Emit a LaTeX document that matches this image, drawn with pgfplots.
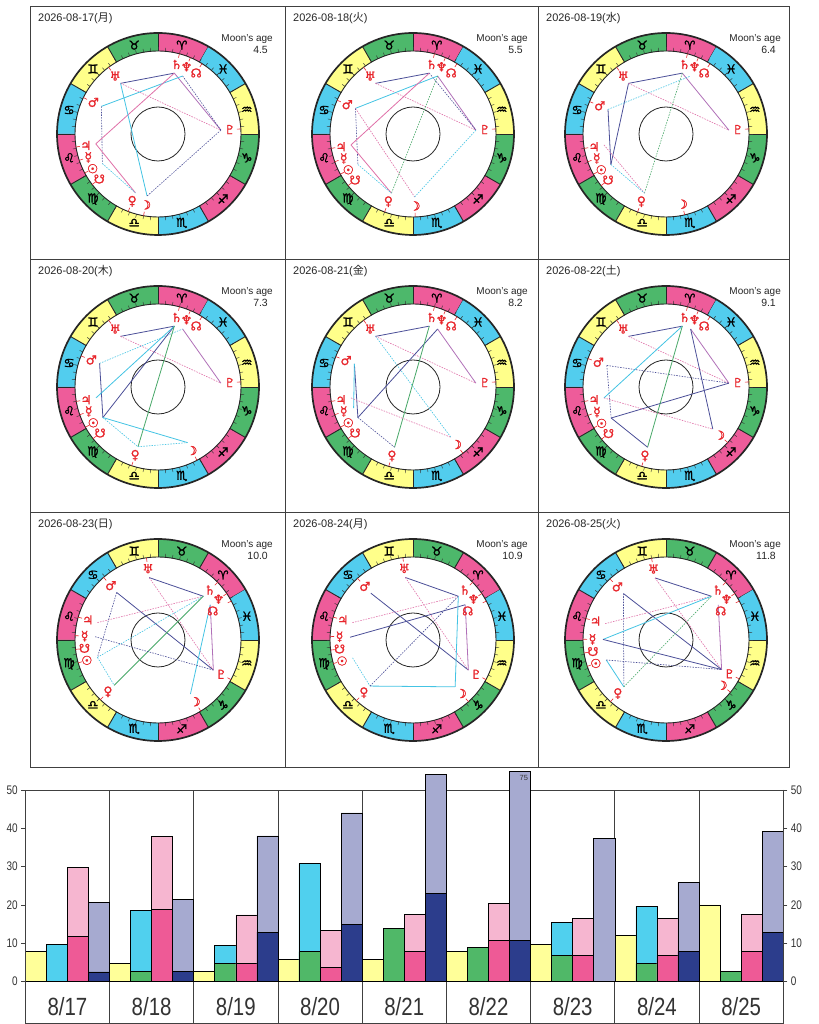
\documentclass[border=0pt]{standalone}
\usepackage{fontspec}
\usepackage{graphicx}
\usepackage{pgfplots}
\pgfplotsset{compat=1.18}
\usepackage{pgfplotstable}
\usepgfplotslibrary{polar}
\setmainfont{Liberation Sans}
\newfontfamily\sym[FakeBold=1.2]{DejaVu Sans}
\newfontfamily\symb[FakeBold=1.8]{DejaVu Sans}
\newfontfamily\jp{Noto Sans CJK JP}

\definecolor{cfire}{HTML}{EE5C9A}
\definecolor{cearth}{HTML}{4DB86B}
\definecolor{cair}{HTML}{FFFF8A}
\definecolor{cwater}{HTML}{52CDEE}
\definecolor{cred}{HTML}{E8262C}
\definecolor{cS}{HTML}{4B4F98}
\definecolor{cP}{HTML}{E070A8}
\definecolor{cM}{HTML}{B070B8}
\definecolor{cC}{HTML}{44C4E4}
\definecolor{cG}{HTML}{48A868}
\definecolor{byel}{HTML}{FFFF99}
\definecolor{bcyan}{HTML}{50D0EE}
\definecolor{bgreen}{HTML}{50B868}
\definecolor{bhpink}{HTML}{EE5A96}
\definecolor{blpink}{HTML}{F6B6D0}
\definecolor{bnavy}{HTML}{2C3D8C}
\definecolor{blav}{HTML}{A6AAD0}

\newcommand\pfont{\sym\fontsize{12.5}{12.5}\selectfont}
\newcommand\sfont{\symb\fontsize{12.5}{12.5}\selectfont}
\newcommand\tickfont{\fontsize{12.5}{12.5}\selectfont}
\newcommand\catfont{\fontsize{25}{25}\selectfont}
\newcommand\cl[1]{\scalebox{0.82}[1]{#1}}
\newcommand\tl[1]{\scalebox{0.8}[1]{#1}}

\pgfplotsset{
 aS/.style={color=cS, line width=0.8bp},
 aSd/.style={color=cS, line width=0.6bp, dash pattern=on 1.5bp off 1.2bp},
 aP/.style={color=cP, line width=0.8bp},
 aPd/.style={color=cP, line width=0.6bp, dash pattern=on 1.5bp off 1.2bp},
 aM/.style={color=cM, line width=0.8bp},
 aC/.style={color=cC, line width=0.8bp},
 aCd/.style={color=cC, line width=0.6bp, dash pattern=on 1.5bp off 1.2bp},
 aG/.style={color=cG, line width=0.8bp},
 aGd/.style={color=cG, line width=0.6bp, dash pattern=on 1.5bp off 1.2bp},
 pcon/.style={color=cred, line width=0.6bp},
 planetlab/.style={draw=none, mark=none, point meta=explicit symbolic,
   nodes near coords={\pgfplotspointmeta},
   every node near coord/.append style={anchor=center, inner sep=0pt, font=\pfont, text=cred}},
 signlab/.style={draw=none, mark=none, point meta=explicit symbolic,
   nodes near coords={\pgfplotspointmeta},
   every node near coord/.append style={anchor=center, inner sep=0pt, font=\sfont, text=black}},
 wheelax/.style={scale only axis, width=210bp, height=210bp, xmin=0, xmax=360,
   ymin=0, ymax=105, hide axis, xtick=\empty, ytick=\empty, clip=false},
}

\newcommand\asp[3]{\edef\asptmp{\noexpand\addplot[#1] coordinates {(#2,63) (#3,63)};}\asptmp}
\newcommand\con[1]{\edef\contmp{\noexpand\addplot[pcon] coordinates {(#1,79) (#1,83)};}\contmp}

\newcommand\ring[3]{%
 \begin{scope}[shift={(#1,#2)}]
  \foreach \k in {0,...,11}{
    \pgfmathsetmacro\a{#3+30*\k}
    \pgfmathtruncatemacro\e{mod(\k,4)}
    \ifcase\e \def\col{cfire}\or\def\col{cearth}\or\def\col{cair}\or\def\col{cwater}\fi
    \fill[\col] (\a:83bp) arc[start angle=\a, delta angle=30, radius=83bp]
       -- (\a+30:101bp) arc[start angle=\a+30, delta angle=-30, radius=101bp] -- cycle;
    \draw[line width=0.9bp, black!85] (\a:83bp) -- (\a:101bp);
  }
  \foreach \t in {0,5,...,355}{\draw[line width=0.45bp, black!80] (\t+#3:83bp) -- (\t+#3:86.5bp);}
  \draw[line width=1.7bp, black!85] (0,0) circle[radius=101bp];
  \draw[line width=0.9bp, black!85] (0,0) circle[radius=83bp];
  \draw[line width=0.8bp, black!85] (0,0) circle[radius=27bp];
 \end{scope}}

\newcommand\wheel[7]{%
 \ring{#1}{#2}{#3}
 \node[anchor=base west, inner sep=0pt, font=\fontsize{11}{11}\selectfont, text=black!85] at (#1-120,#2+112) {#4({\jp #5})};
 \node[anchor=base east, inner sep=0pt, font=\fontsize{10}{10}\selectfont, text=black!85] at (#1+115,#2+92) {Moon's age};
 \node[anchor=base east, inner sep=0pt, font=\fontsize{10.5}{10.5}\selectfont, text=black!85] at (#1+110,#2+80) {#6};
 \begin{polaraxis}[wheelax, at={(#1,#2)}, anchor=center]
  \ifnum#3=60
   \addplot[signlab] coordinates {(75,92)[♈] (105,92)[♉] (135,92)[♊] (165,92)[♋] (195,92)[♌] (225,92)[♍] (255,92)[♎] (285,92)[♏] (315,92)[♐] (345,92)[♑] (15,92)[♒] (45,92)[♓]};
  \else
   \addplot[signlab] coordinates {(45,92)[♈] (75,92)[♉] (105,92)[♊] (135,92)[♋] (165,92)[♌] (195,92)[♍] (225,92)[♎] (255,92)[♏] (285,92)[♐] (315,92)[♑] (345,92)[♒] (15,92)[♓]};
  \fi
  #7
  \con\Sa \con\Ne \con\No \con\Ur \con\Ma \con\Ju \con\Me \con\Su \con\Sn \con\Ve \con\Mo \con\Pl
  \edef\labtmp{\noexpand\addplot[planetlab] coordinates {(\Sa,72)[♄] (\Ne,73)[♆] (\No,\rNo)[☊] (\Ur,72)[♅] (\Ma,72)[♂] (\Ju,73)[♃] (\Me,73.5)[☿] (\Su,74)[☉] (\Sn,74)[☋] (\Ve,72)[♀] (\Mo,72)[☽] (\Pl,72)[♇]};}\labtmp
 \end{polaraxis}}

\pgfplotstableread{
x yel cyan green lpink hpink lav navy
0 7.8 9.8 0 29.8 11.8 20.6 2.5
1 4.7 18.5 2.6 37.8 18.8 21.4 2.6
2 2.6 9.4 4.7 17.4 4.7 38.0 12.9
3 5.7 30.8 7.8 13.4 3.7 44.0 15.0
4 5.7 0 13.9 17.5 7.8 54.0 23.0
5 7.8 0 8.9 20.3 10.7 75 10.7
6 9.8 15.5 6.8 16.5 6.8 37.4 0
7 12.1 19.6 4.7 16.5 6.8 25.8 7.8
8 20.0 0 2.7 17.6 7.8 39.2 12.9
}\bars

\begin{document}
\begin{tikzpicture}[x=1bp,y=1bp]
\path[use as bounding box, fill=white] (0,0) rectangle (819,1024);
% panel grid
\draw[black!75, line width=0.8bp] (30,257) rectangle (789,1018);
\draw[black!75, line width=0.8bp] (285,257) -- (285,1018) (538,257) -- (538,1018)
  (30,765) -- (789,765) (30,512) -- (789,512);

% ---------- row 1 / 2 slow planets
\def\Sa{75}\def\Ne{67}\def\No{58}\def\rNo{72}\def\Ur{126.5}\def\Pl{3.5}
% chart 1
\def\Ma{154}\def\Ju{189}\def\Me{198.5}\def\Su{208}\def\Sn{217.5}\def\Ve{249}\def\Mo{260}
\wheel{158}{890}{60}{2026-08-17}{月}{4.5}{%
 \asp{aS}\Ur\Sa \asp{aPd}\Ur\Pl \asp{aM}\Sa\Pl \asp{aSd}\Ne\Pl \asp{aC}\Ma\Ne
 \asp{aSd}\Ma\Su \asp{aP}\Ju\Sa \asp{aP}\Ju\Ve \asp{aC}\Ur\Mo \asp{aSd}\Pl\Mo \asp{aCd}\Su\Ve}
% chart 2
\def\Ma{156}\def\Ju{190}\def\Me{199.5}\def\Su{209}\def\Sn{218.5}\def\Ve{250}\def\Mo{271.5}
\wheel{413}{890}{60}{2026-08-18}{火}{5.5}{%
 \asp{aS}\Ur\Sa \asp{aPd}\Ur\Pl \asp{aM}\Ne\Pl \asp{aSd}\Sa\Pl \asp{aC}\Ma\Ne
 \asp{aSd}\Ma\Su \asp{aP}\Ju\Sa \asp{aP}\Ju\Ve \asp{aPd}\Ma\Mo \asp{aGd}\Ne\Ve
 \asp{aCd}\Pl\Mo \asp{aCd}\Su\Ve}
% chart 3
\def\Ma{157}\def\Ju{190}\def\Me{199.5}\def\Su{209}\def\Sn{218.5}\def\Ve{250}\def\Mo{283}
\wheel{666}{890}{60}{2026-08-19}{水}{6.4}{%
 \asp{aS}\Ur\Sa \asp{aS}\Ur\Su \asp{aS}\Ma\Su \asp{aPd}\Ur\Pl \asp{aM}\Sa\Pl
 \asp{aCd}\Ma\Ne \asp{aGd}\Sa\Ve \asp{aPd}\Ju\Ve \asp{aCd}\Su\Ve}
% chart 4
\def\Ma{158}\def\Ju{190}\def\Me{199.5}\def\Su{209}\def\Sn{218.5}\def\Ve{251.5}\def\Mo{298}
\wheel{158}{637}{60}{2026-08-20}{木}{7.3}{%
 \asp{aS}\Ur\Sa \asp{aPd}\Ur\Pl \asp{aM}\Ne\Pl \asp{aCd}\Ma\Ne \asp{aS}\Ma\Su
 \asp{aS}\Su\Sa \asp{aC}\Ju\Sa \asp{aC}\Su\Mo \asp{aCd}\Su\Ve \asp{aG}\Ve\Sa \asp{aCd}\Ve\Mo}
% chart 5
\def\Ma{158.5}\def\Ju{190}\def\Me{199.5}\def\Su{209}\def\Sn{218.5}\def\Ve{253}\def\Mo{307}
\wheel{413}{637}{60}{2026-08-21}{金}{8.2}{%
 \asp{aS}\Ur\Sa \asp{aPd}\Ur\Pl \asp{aM}\Ne\Pl \asp{aCd}\Ur\Mo \asp{aS}\Ma\Su
 \asp{aC}\Ma\Me \asp{aS}\Su\Ne \asp{aG}\Sa\Ve \asp{aPd}\Ju\Mo \asp{aSd}\Su\Ve}
% chart 6
\def\Ma{160}\def\Ju{190}\def\Me{200}\def\Su{209.5}\def\Sn{219}\def\Ve{253}\def\Mo{318}
\wheel{666}{637}{60}{2026-08-22}{土}{9.1}{%
 \asp{aS}\Ur\Sa \asp{aPd}\Ur\Pl \asp{aM}\Ne\Pl \asp{aS}\Ne\Mo \asp{aSd}\Ma\Pl
 \asp{aSd}\Ma\Su \asp{aS}\Su\Pl \asp{aC}\Ju\Sa \asp{aG}\Sa\Ve \asp{aS}\Su\Ve \asp{aPd}\Ju\Mo}

% ---------- row 3
\def\Sa{44}\def\Ne{34}\def\No{28}\def\rNo{62}\def\Ur{98}\def\Pl{331.5}
% chart 7
\def\Ma{131}\def\Ju{164}\def\Me{177}\def\Sn{186.5}\def\Su{196}\def\Ve{226}\def\Mo{301}
\wheel{158}{384}{30}{2026-08-23}{日}{10.0}{%
 \asp{aS}\Ma\Pl \asp{aPd}\Ur\Pl \asp{aS}\Ur\Sa \asp{aPd}\Ju\Sa \asp{aCd}\Su\Sa
 \asp{aG}\Ve\Sa \asp{aM}\Ne\Pl \asp{aC}\Ne\Mo \asp{aSd}\Ma\Su \asp{aSd}\Me\Pl \asp{aCd}\Su\Ve}
% chart 8
\def\Ur{97}
\def\Ma{132}\def\Ju{164}\def\Me{177.5}\def\Sn{187}\def\Su{196.5}\def\Ve{227}\def\Mo{312}
\wheel{413}{384}{30}{2026-08-24}{月}{10.9}{%
 \asp{aS}\Ma\Pl \asp{aS}\Ur\Sa \asp{aPd}\Ur\Pl \asp{aPd}\Ju\Sa \asp{aS}\Me\Ne
 \asp{aM}\Ne\Pl \asp{aC}\Sa\Mo \asp{aC}\Ve\Mo \asp{aCd}\Su\Ve \asp{aSd}\Ve\Sa}
% chart 9
\def\Ur{100}\def\Pl{332}
\def\Ma{132.5}\def\Ju{165}\def\Me{179.5}\def\Sn{189}\def\Su{198.5}\def\Ve{228}\def\Mo{321}
\wheel{666}{384}{30}{2026-08-25}{火}{11.8}{%
 \asp{aS}\Ur\Sa \asp{aPd}\Ur\Pl \asp{aSd}\Ma\Ve \asp{aS}\Ma\Pl \asp{aPd}\Ju\Sa
 \asp{aC}\Me\Sa \asp{aS}\Me\Pl \asp{aM}\Ne\Pl \asp{aC}\Su\Ve \asp{aSd}\Su\Pl \asp{aGd}\Ve\Sa}

% ---------- bar chart
\begin{axis}[at={(30,1)}, anchor=south west, scale only axis,
  width=758bp, height=233.7bp, xmin=0, xmax=9, ymin=-10.97, ymax=50, clip=false,
  axis line style={draw=black!75, line width=0.8bp},
  xtick={0.5,1.5,...,8.5},
  xticklabels={\cl{8/17},\cl{8/18},\cl{8/19},\cl{8/20},\cl{8/21},\cl{8/22},\cl{8/23},\cl{8/24},\cl{8/25}},
  xtick style={draw=none},
  xticklabel style={font=\catfont, anchor=center, yshift=21bp, text=black!80},
  major grid style={draw=black!75, line width=0.8bp},
  extra x ticks={1,2,...,8}, extra x tick labels={},
  extra x tick style={grid=major, major tick length=0pt},
  extra y ticks={0}, extra y tick labels={},
  extra y tick style={grid=major},
  ytick={0,10,...,50}, yticklabels={\tl{0},\tl{10},\tl{20},\tl{30},\tl{40},\tl{50}},
  ytick pos=left, tick align=outside, major tick length=4bp,
  ytick style={draw=black!75, line width=0.6bp},
  yticklabel style={font=\tickfont, text=black!80},
]
\addplot[ybar, bar width=0.25, bar shift=0pt, fill=byel, draw=black, line width=0.6bp] table[x expr=\thisrow{x}+0.125, y=yel]{\bars};
\addplot[ybar, bar width=0.25, bar shift=0pt, fill=bcyan, draw=black, line width=0.6bp] table[x expr=\thisrow{x}+0.375, y=cyan]{\bars};
\addplot[ybar, bar width=0.25, bar shift=0pt, fill=bgreen, draw=black, line width=0.6bp] table[x expr=\thisrow{x}+0.375, y=green]{\bars};
\addplot[ybar, bar width=0.25, bar shift=0pt, fill=blpink, draw=black, line width=0.6bp] table[x expr=\thisrow{x}+0.625, y=lpink]{\bars};
\addplot[ybar, bar width=0.25, bar shift=0pt, fill=bhpink, draw=black, line width=0.6bp] table[x expr=\thisrow{x}+0.625, y=hpink]{\bars};
\addplot[ybar, bar width=0.25, bar shift=0pt, fill=blav, draw=black, line width=0.6bp, restrict y to domain*=-20:54.8] table[x expr=\thisrow{x}+0.875, y=lav]{\bars};
\addplot[ybar, bar width=0.25, bar shift=0pt, fill=bnavy, draw=black, line width=0.6bp] table[x expr=\thisrow{x}+0.875, y=navy]{\bars};
\node[font=\fontsize{7.5}{7.5}\selectfont, text=black!80] at (axis cs:5.92,53.0) {75};
\end{axis}
\begin{axis}[at={(30,1)}, anchor=south west, scale only axis,
  width=758bp, height=233.7bp, xmin=0, xmax=9, ymin=-10.97, ymax=50,
  hide x axis, axis line style={draw=black!75, line width=0.8bp},
  ytick={0,10,...,50}, yticklabels={\tl{0},\tl{10},\tl{20},\tl{30},\tl{40},\tl{50}},
  ytick pos=right, yticklabel pos=right, tick align=outside, major tick length=4bp,
  ytick style={draw=black!75, line width=0.6bp},
  yticklabel style={font=\tickfont, text=black!80},
]
\end{axis}
\end{tikzpicture}
\end{document}
